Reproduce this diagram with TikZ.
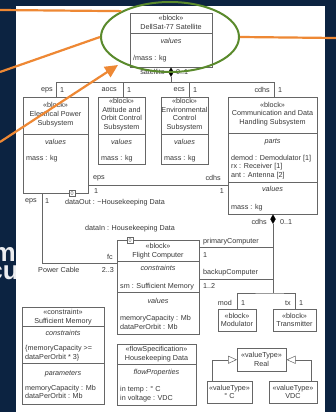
\documentclass[tikz,border=0pt]{standalone}
\usepackage{fontspec}
\setmainfont{Liberation Sans}
\usetikzlibrary{arrows.meta,shapes.geometric}

\definecolor{navy}{HTML}{0C2341}
\definecolor{accent}{HTML}{EE8834}
\definecolor{ringgreen}{HTML}{5A8A2C}
\definecolor{ink}{HTML}{383838}
\definecolor{rule}{HTML}{666666}

% a block outline from its top-left corner to its bottom-right corner
\newcommand\umlbox[5]{\node[box, minimum width={(#4)-(#2)}, minimum height={(#5)-(#3)}] (#1) at (#2,#3) {};}
% a compartment divider across block #1 at height #2
\newcommand\compsep[2]{\draw[wire] (#1.west |- 0,#2) -- (#1.east |- 0,#2);}
% the little double-chevron inside a flow port
\newcommand\portglyph[1]{%
  \draw[wire, line width=0.3pt] ([shift={(-1.3,-0.3)}]#1.center) -- ([shift={(0,-1.7)}]#1.center) -- ([shift={(1.3,-0.3)}]#1.center);
  \draw[wire, line width=0.3pt] ([shift={(-1.3,0.3)}]#1.center) -- ([shift={(0,1.7)}]#1.center) -- ([shift={(1.3,0.3)}]#1.center);}

\begin{document}
\begin{tikzpicture}[x=1pt,y=-1pt,
  box/.style={draw=rule, line width=0.5pt, inner sep=0, anchor=north west},
  wire/.style={draw=rule, line width=0.5pt},
  txt/.style={font=\fontsize{7.2}{8.7}\selectfont, text=ink, inner sep=0, align=center},
  ltxt/.style={txt, anchor=west, align=left},
  rtxt/.style={txt, anchor=east, align=right},
  itxt/.style={txt, font=\fontsize{7.2}{8.7}\selectfont\itshape},
  comp/.style={diamond, fill=black, draw=black, line width=0.3pt, inner sep=0, minimum width=5, minimum height=9, anchor=north},
  port/.style={draw=rule, fill=white, line width=0.5pt, minimum size=6, inner sep=0},
  gen/.style={wire, -{Triangle[length=9pt,width=8pt,fill=white]}},
  slidetext/.style={font=\fontsize{26}{30}\selectfont\bfseries, text=white!92!navy, inner sep=0},
  callout/.style={draw=accent, line width=2.2pt},
]
\useasboundingbox (0,0) rectangle (336,412);

% slide background and the heading text that runs under the panel
\fill[navy] (0,0) rectangle (336,412);
\node[slidetext, anchor=base east] (headm) at (16,261) {m};
\node[slidetext, anchor=base east] (headcu) at (19,279) {cu};
\fill[white] (16,6) rectangle (325,412);

% ---------- top-level block ----------
\umlbox{sat}{130}{13}{212}{67}
\compsep{sat}{33}
\node[txt] (sath) at (171,22.5) {«block»\\DellSat-77 Satellite};
\node[itxt] (satv) at (171,41) {values};
\node[ltxt] (satm) at (133,59) {/mass : kg};
\node[comp] (satd) at (sat.south -| 171,0) {};
\node[rtxt] (satl) at (165,72) {satellite};
\node[ltxt] (satn) at (176,72) {0..1};

% ---------- subsystems ----------
\umlbox{eps}{23}{97}{88}{193}
\compsep{eps}{134}
\node[txt] (epsh) at (55.5,114.5) {«block»\\Electrical Power\\Subsystem};
\node[itxt] (epsv) at (55.5,142) {values};
\node[ltxt] (epsm) at (26,159) {mass : kg};

\umlbox{aocs}{98}{97}{145}{164}
\compsep{aocs}{134}
\node[txt] (aocsh) at (121.5,114.5) {«block»\\Attitude and\\Orbit Control\\Subsystem};
\node[itxt] (aocsv) at (121.5,142) {values};
\node[ltxt] (aocsm) at (101,159) {mass : kg};

\umlbox{ecs}{161}{97}{208}{164}
\compsep{ecs}{134}
\node[txt] (ecsh) at (184.5,114.5) {«block»\\Environmental\\Control\\Subsystem};
\node[itxt] (ecsv) at (184.5,142) {values};
\node[ltxt] (ecsm) at (164,159) {mass : kg};

\umlbox{cdhs}{228}{97}{317}{214}
\compsep{cdhs}{133}
\compsep{cdhs}{182}
\node[txt] (cdhsh) at (272.5,114) {«block»\\Communication and Data\\Handling Subsystem};
\node[itxt] (cdhsp) at (272.5,142) {parts};
\node[ltxt] (cdhsl) at (231,167) {demod : Demodulator [1]\\rx : Receiver [1]\\ant : Antenna [2]};
\node[itxt] (cdhsv) at (272.5,189) {values};
\node[ltxt] (cdhsm) at (231,208) {mass : kg};

% composition tree under the satellite
\coordinate (bus) at (171,82);
\draw[wire] (satd.south) -- (bus);
\draw[wire] (eps.north -| 56,0) -- (56,82) -- (274,82) -- (cdhs.north -| 274,0);
\draw[wire] (aocs.north -| 123,0) -- (123,82);
\draw[wire] (ecs.north -| 189,0) -- (189,82);
\node[rtxt] (le1) at (53,90) {eps};   \node[ltxt] (le2) at (60,90) {1};
\node[rtxt] (la1) at (117,90) {aocs}; \node[ltxt] (la2) at (127,90) {1};
\node[rtxt] (lc1) at (185,90) {ecs};  \node[ltxt] (lc2) at (193,90) {1};
\node[rtxt] (ld1) at (270,90) {cdhs}; \node[ltxt] (ld2) at (278,90) {1};

% eps -- cdhs association
\draw[wire] (eps.east |- 0,185) -- (cdhs.west |- 0,185);
\node[ltxt] (ae1) at (93,178) {eps};
\node[ltxt] (ae2) at (94,191) {1};
\node[rtxt] (ac1) at (221,178) {cdhs};
\node[rtxt] (ac2) at (224,191) {1};

% flow port on the power subsystem
\node[port] (epsp) at (72,193) {};
\portglyph{epsp}
\node[ltxt] (epspl) at (65,203) {dataOut : \textasciitilde Housekeeping Data};

% ---------- flight computer ----------
\umlbox{fc}{117}{240}{199}{334}
\compsep{fc}{261}
\compsep{fc}{292}
\node[txt] (fch) at (158,251) {«block»\\Flight Computer};
\node[itxt] (fcc) at (158,268) {constraints};
\node[ltxt] (fcs) at (120,287) {sm : Sufficient Memory};
\node[itxt] (fcv) at (158,301) {values};
\node[ltxt] (fcm) at (120,322.5) {memoryCapacity : Mb\\dataPerOrbit : Mb};
\node[port] (fcp) at (130,240) {};
\portglyph{fcp}
\node[txt] (fcpl) at (130,229) {dataIn : Housekeeping Data};

% power cable
\draw[wire] (eps.south -| 42,0) |- (fc.west |- 0,263);
\node[rtxt] (pc1) at (37,201) {eps};
\node[ltxt] (pc2) at (45,201) {1};
\node[rtxt] (pc3) at (113,257) {fc};
\node[ltxt] (pc4) at (38,270) {Power Cable};
\node[rtxt] (pc5) at (114,270) {2..3};

% composition under the data handling subsystem
\node[comp] (cdhsd) at (cdhs.south -| 273,0) {};
\node[rtxt] (cd1) at (267,222) {cdhs};
\node[ltxt] (cd2) at (280,222) {0..1};
\coordinate (cj) at (273,293);
\draw[wire] (cdhsd.south) -- (cj);
\draw[wire] (fc.east |- 0,247) -- (273,247);
\draw[wire] (fc.east |- 0,279) -- (273,279);
\node[ltxt] (pcl) at (203,242) {primaryComputer};
\node[ltxt] (pcn) at (203,255) {1};
\node[ltxt] (bcl) at (203,273) {backupComputer};
\node[ltxt] (bcn) at (203,286) {1..2};

\umlbox{mod}{218}{309}{256}{331}
\node[txt] (modh) at (237,320) {«block»\\Modulator};
\umlbox{xmt}{273}{309}{316}{331}
\node[txt] (xmth) at (294.5,320) {«block»\\Transmitter};
\draw[wire] (mod.north) |- (cj) -| (xmt.north);
\node[rtxt] (mo1) at (232,303) {mod}; \node[ltxt] (mo2) at (241,303) {1};
\node[rtxt] (tx1) at (291,303) {tx};  \node[ltxt] (tx2) at (299,303) {1};

% ---------- constraint block ----------
\umlbox{smem}{22}{307}{104}{404}
\compsep{smem}{326}
\compsep{smem}{363}
\node[txt] (smh) at (63,317) {«constraint»\\Sufficient Memory};
\node[itxt] (smc) at (63,333) {constraints};
\node[ltxt] (sme) at (25,353) {\{memoryCapacity >=\\dataPerOrbit * 3\}};
\node[itxt] (smp) at (63,374) {parameters};
\node[ltxt] (smq) at (25,392) {memoryCapacity : Mb\\dataPerOrbit : Mb};

% ---------- flow specification ----------
\umlbox{hk}{117}{344}{196}{405}
\compsep{hk}{364}
\node[txt] (hkh) at (156.5,354) {«flowSpecification»\\Housekeeping Data};
\node[itxt] (hkf) at (156.5,373) {flowProperties};
\node[ltxt] (hkl) at (120,394) {in temp : ° C\\in voltage : VDC};

% ---------- value types ----------
\umlbox{real}{237}{348}{286}{371}
\node[txt] (realh) at (261.5,359.5) {«valueType»\\Real};
\umlbox{degc}{207}{381}{252}{403}
\node[txt] (degch) at (229.5,392) {«valueType»\\° C};
\umlbox{vdc}{269}{381}{317}{403}
\node[txt] (vdch) at (293,392) {«valueType»\\VDC};
\draw[gen] (degc.north -| 212,0) |- (real.west);
\draw[gen] (vdc.north -| 311,0) |- (real.east);

% ---------- highlight ring and call-out lines ----------
\node[draw=ringgreen, line width=2pt, ellipse, minimum width=138, minimum height=70, inner sep=0] (ring) at (170,37) {};
\coordinate (c1) at (0,10);
\coordinate (c2) at (0,72);
\coordinate (c3) at (0,142);
\coordinate (c3tip) at (118,65);
\coordinate (c4) at (336,38);
\draw[callout] (c1) -- (ring.152);
\draw[callout] (c2) -- (ring.180);
\draw[callout] (ring.0) -- (c4);
\draw[callout, -{Triangle[length=13pt,width=12pt]}] (c3) -- (c3tip);
\end{tikzpicture}
\end{document}
